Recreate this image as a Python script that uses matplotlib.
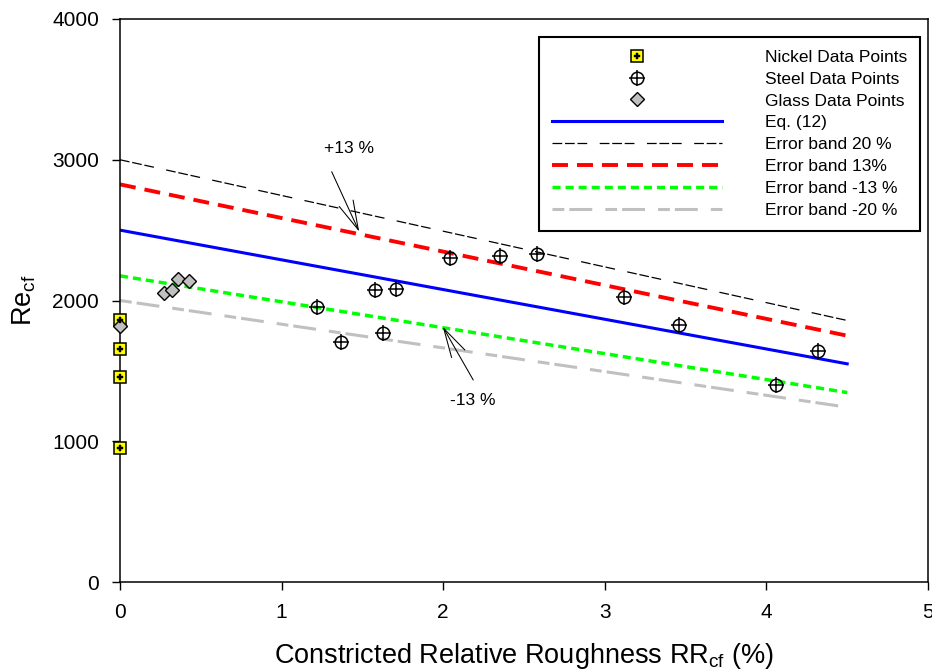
import matplotlib
matplotlib.use("Agg")
import matplotlib.pyplot as plt

plt.rcParams['font.family'] = ['Liberation Sans', 'DejaVu Sans']
plt.rcParams['lines.scale_dashes'] = False

# line data (Eq. 12 and the error bands)
rr_line = [0, 4.5]
eq12 = [2500, 1550]
band_p20 = [3000, 1858]
band_p13 = [2825, 1750]
band_m13 = [2175, 1346]
band_m20 = [2000, 1242]

# measured points
nickel_rr = [0, 0, 0, 0]
nickel_re = [1860, 1655, 1458, 950]
steel_rr = [1.22, 1.37, 1.58, 1.63, 1.71, 2.04, 2.35, 2.58, 3.12, 3.46, 4.06, 4.32]
steel_re = [1956, 1707, 2075, 1767, 2080, 2304, 2318, 2330, 2027, 1828, 1402, 1643]
glass_rr = [0, 0.27, 0.32, 0.36, 0.43]
glass_re = [1820, 2051, 2075, 2151, 2141]

fig = plt.figure(figsize=(9.32, 6.72), dpi=100)
ax = fig.add_axes([120 / 932, 90 / 672, 808 / 932, 563 / 672])

# lines
l_eq, = ax.plot(rr_line, eq12, color='#0000ff', lw=2.2)
l_p20, = ax.plot(rr_line, band_p20, color='black', lw=0.9,
                 dashes=(7, 2, 7, 2, 7, 9))
l_p13, = ax.plot(rr_line, band_p13, color='#ff0000', lw=2.8, dashes=(11.5, 6.5))
l_m13, = ax.plot(rr_line, band_m13, color='#00ff00', lw=2.5, dashes=(5.8, 3.6))
l_m20, = ax.plot(rr_line, band_m20, color='#c0c0c0', lw=2.2,
                 dashes=(8.5, 3.6, 16.5, 9.4))

# points
n1, = ax.plot(nickel_rr, nickel_re, ls='none', marker='s', ms=8.6,
              mfc='#ffff00', mec='black', mew=1.1, clip_on=False, zorder=5)
n2, = ax.plot(nickel_rr, nickel_re, ls='none', marker='P', ms=4.5,
              mfc='black', mec='black', mew=0.3, clip_on=False, zorder=6)
s1, = ax.plot(steel_rr, steel_re, ls='none', marker='o', ms=9,
              mfc='none', mec='black', mew=1.1, zorder=5)
s2, = ax.plot(steel_rr, steel_re, ls='none', marker='+', ms=11,
              mec='black', mew=1.1, zorder=5)
g1, = ax.plot(glass_rr, glass_re, ls='none', marker='D', ms=6.8,
              mfc='#c0c0c0', mec='black', mew=1.0, clip_on=False, zorder=5)

# arrows with labels
arrow = dict(arrowstyle='->,head_length=2.1,head_width=0.55', color='black',
             lw=0.75, mutation_scale=10, shrinkA=0, shrinkB=0)
ax.annotate('', xy=(1.48, 2489), xytext=(1.31, 2915), arrowprops=arrow)
ax.text(1.417, 3080, '+13 %', fontsize=12.5, ha='center', va='center')
ax.annotate('', xy=(1.997, 1814), xytext=(2.186, 1435), arrowprops=arrow)
ax.text(2.18, 1286, '-13 %', fontsize=12.5, ha='center', va='center')

ax.set_xlim(0, 5)
ax.set_ylim(0, 4000)
ax.set_xticks([0, 1, 2, 3, 4, 5])
ax.set_yticks([0, 1000, 2000, 3000, 4000])
ax.tick_params(direction='out', length=6, width=1, labelsize=15, pad=9,
               top=False, right=False)
for sp in ax.spines.values():
    sp.set_linewidth(1.1)

ax.set_xlabel('Constricted Relative Roughness RR$_\\mathregular{cf}$ (%)',
              fontsize=19.5, labelpad=14)
ax.set_ylabel('Re$_\\mathregular{cf}$', fontsize=19.5, labelpad=10)

handles = [(n1, n2), (s1, s2), g1, l_eq, l_p20, l_p13, l_m13, l_m20]
labels = ['Nickel Data Points', 'Steel Data Points', 'Glass Data Points',
          'Eq. (12)', 'Error band 20 %', 'Error band 13%',
          'Error band -13 %', 'Error band -20 %']
leg = ax.legend(handles, labels, loc='upper right',
                bbox_to_anchor=(800 / 808, 545 / 563), borderaxespad=0,
                fontsize=12.5, handlelength=9.8, handletextpad=2.5,
                labelspacing=0.39, borderpad=0.72, fancybox=False,
                edgecolor='black', framealpha=1)
leg.get_frame().set_linewidth(1.5)

plt.savefig('out.png', dpi=100)
